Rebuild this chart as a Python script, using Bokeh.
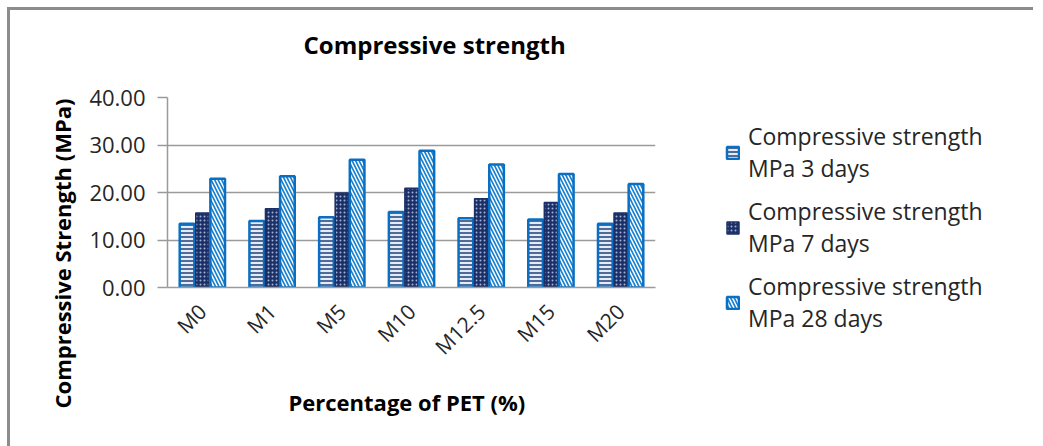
from math import pi
from bokeh.plotting import figure
from bokeh.layouts import row, column
from bokeh.models import (ColumnDataSource, FactorRange, Range1d, Legend, LegendItem, Title,
                          FixedTicker, PrintfTickFormatter)
from bokeh.transform import dodge
from bokeh.embed import file_html
from bokeh.resources import INLINE

categories = ["M0", "M1", "M5", "M10", "M12.5", "M15", "M20"]
days3 = [13.4, 14.0, 14.8, 15.9, 14.6, 14.3, 13.4]
days7 = [15.7, 16.6, 19.9, 20.9, 18.7, 17.9, 15.7]
days28 = [22.9, 23.4, 26.9, 28.8, 25.9, 23.9, 21.8]
series_labels = ["Compressive strength\nMPa 3 days",
                 "Compressive strength\nMPa 7 days",
                 "Compressive strength\nMPa 28 days"]
y_ticks = [0, 10, 20, 30, 40]

FONT = "Open Sans"

STYLE3 = dict(fill_color="#e4ebf5", hatch_pattern="horizontal_line", hatch_color="#1F3F7A",
              hatch_scale=4, hatch_weight=1.5, line_color="#0a6fc2", line_width=2.5)
STYLE7 = dict(fill_color="#1c2f66", hatch_pattern="dot", hatch_color="#9fb2d8",
              hatch_scale=4, hatch_weight=1.5, line_color="#1c2f66", line_width=1.5)
STYLE28 = dict(fill_color="#1580d0", hatch_pattern="left_diagonal_line", hatch_color="white",
               hatch_scale=7, hatch_weight=1.5, line_color="#0a6fc2", line_width=2.5)

source = ColumnDataSource(dict(cat=categories, d3=days3, d7=days7, d28=days28))

p = figure(x_range=FactorRange(*categories), y_range=(0, 40),
           width=700, height=436, output_backend="svg", toolbar_location=None,
           min_border_left=157, min_border_right=55, min_border_top=87, min_border_bottom=159)
p.outline_line_color = None
p.background_fill_color = "white"
p.border_fill_color = "white"

p.vbar(x=dodge("cat", -0.22, range=p.x_range), top="d3", width=0.21, source=source, **STYLE3)
p.vbar(x=dodge("cat", 0.0, range=p.x_range), top="d7", width=0.19, source=source, **STYLE7)
p.vbar(x=dodge("cat", 0.22, range=p.x_range), top="d28", width=0.21, source=source, **STYLE28)

# axes
p.xgrid.grid_line_color = None
p.ygrid.grid_line_color = "#9a9a9a"
p.ygrid.grid_line_width = 1.5
p.yaxis.ticker = FixedTicker(ticks=y_ticks)
p.yaxis.formatter = PrintfTickFormatter(format="%.2f")
p.yaxis.axis_line_color = "#9a9a9a"
p.yaxis.axis_line_width = 1.5
p.yaxis.major_tick_line_color = "#9a9a9a"
p.yaxis.major_tick_line_width = 1.5
p.yaxis.major_tick_out = 10
p.yaxis.major_tick_in = 0
p.yaxis.minor_tick_line_color = None
p.yaxis.major_label_text_font = FONT
p.yaxis.major_label_text_font_size = "22px"
p.yaxis.major_label_text_color = "#262626"
p.yaxis.major_label_standoff = 12

p.xaxis.axis_line_color = "#9a9a9a"
p.xaxis.axis_line_width = 1.5
p.xaxis.major_tick_line_color = None
p.xaxis.minor_tick_line_color = None
p.xaxis.major_label_orientation = pi / 4
p.xaxis.major_label_text_font = FONT
p.xaxis.major_label_text_font_size = "21px"
p.xaxis.major_label_text_color = "#262626"
p.xaxis.major_label_standoff = 14
p.x_range.range_padding = 0
p.x_range.group_padding = 0

# texts
p.add_layout(Title(text="Compressive strength\n", text_font=FONT, text_font_size="24px",
                   text_font_style="bold", align="left", offset=136, standoff=8,
                   text_color="black"), "above")
p.add_layout(Title(text="Compressive Strength (MPa)", text_font=FONT, text_font_size="22px",
                   text_font_style="bold", align="left", offset=-121, standoff=20,
                   text_color="black"), "left")
p.add_layout(Title(text="Percentage of PET (%)", text_font=FONT, text_font_size="22px",
                   text_font_style="bold", align="left", offset=121, standoff=22,
                   text_color="black"), "below")

# legend panel: a separate figure whose (hidden) renderers only supply the legend swatches
q = figure(width=323, height=436, x_range=FactorRange(*categories), y_range=Range1d(0, 40),
           output_backend="svg", toolbar_location=None, min_border=0)
q.axis.visible = False
q.grid.visible = False
q.outline_line_color = None
q.background_fill_color = "white"
q.border_fill_color = "white"
e3 = q.vbar(x="cat", top="d3", width=0.2, source=source, visible=False, **STYLE3)
e7 = q.vbar(x="cat", top="d7", width=0.2, source=source, visible=False, **STYLE7)
e28 = q.vbar(x="cat", top="d28", width=0.2, source=source, visible=False, **STYLE28)

legend = Legend(items=[LegendItem(label=series_labels[0], renderers=[e3]),
                       LegendItem(label=series_labels[1], renderers=[e7]),
                       LegendItem(label=series_labels[2], renderers=[e28])],
                location=(15, 112), border_line_color=None, background_fill_alpha=0,
                inactive_fill_alpha=0,
                label_text_font=FONT, label_text_font_size="23px", label_text_color="#262626",
                glyph_width=15, glyph_height=15, label_standoff=8, spacing=11,
                padding=0, margin=0, label_text_line_height=1.4)
q.add_layout(legend, "center")

layout = row(p, column(q))
layout.styles = {"margin-left": "7px", "margin-top": "7px",
                 "border-top": "3px solid #8c8c8c", "border-left": "3px solid #8c8c8c"}

open("out.html", "w").write(file_html(layout, INLINE))
